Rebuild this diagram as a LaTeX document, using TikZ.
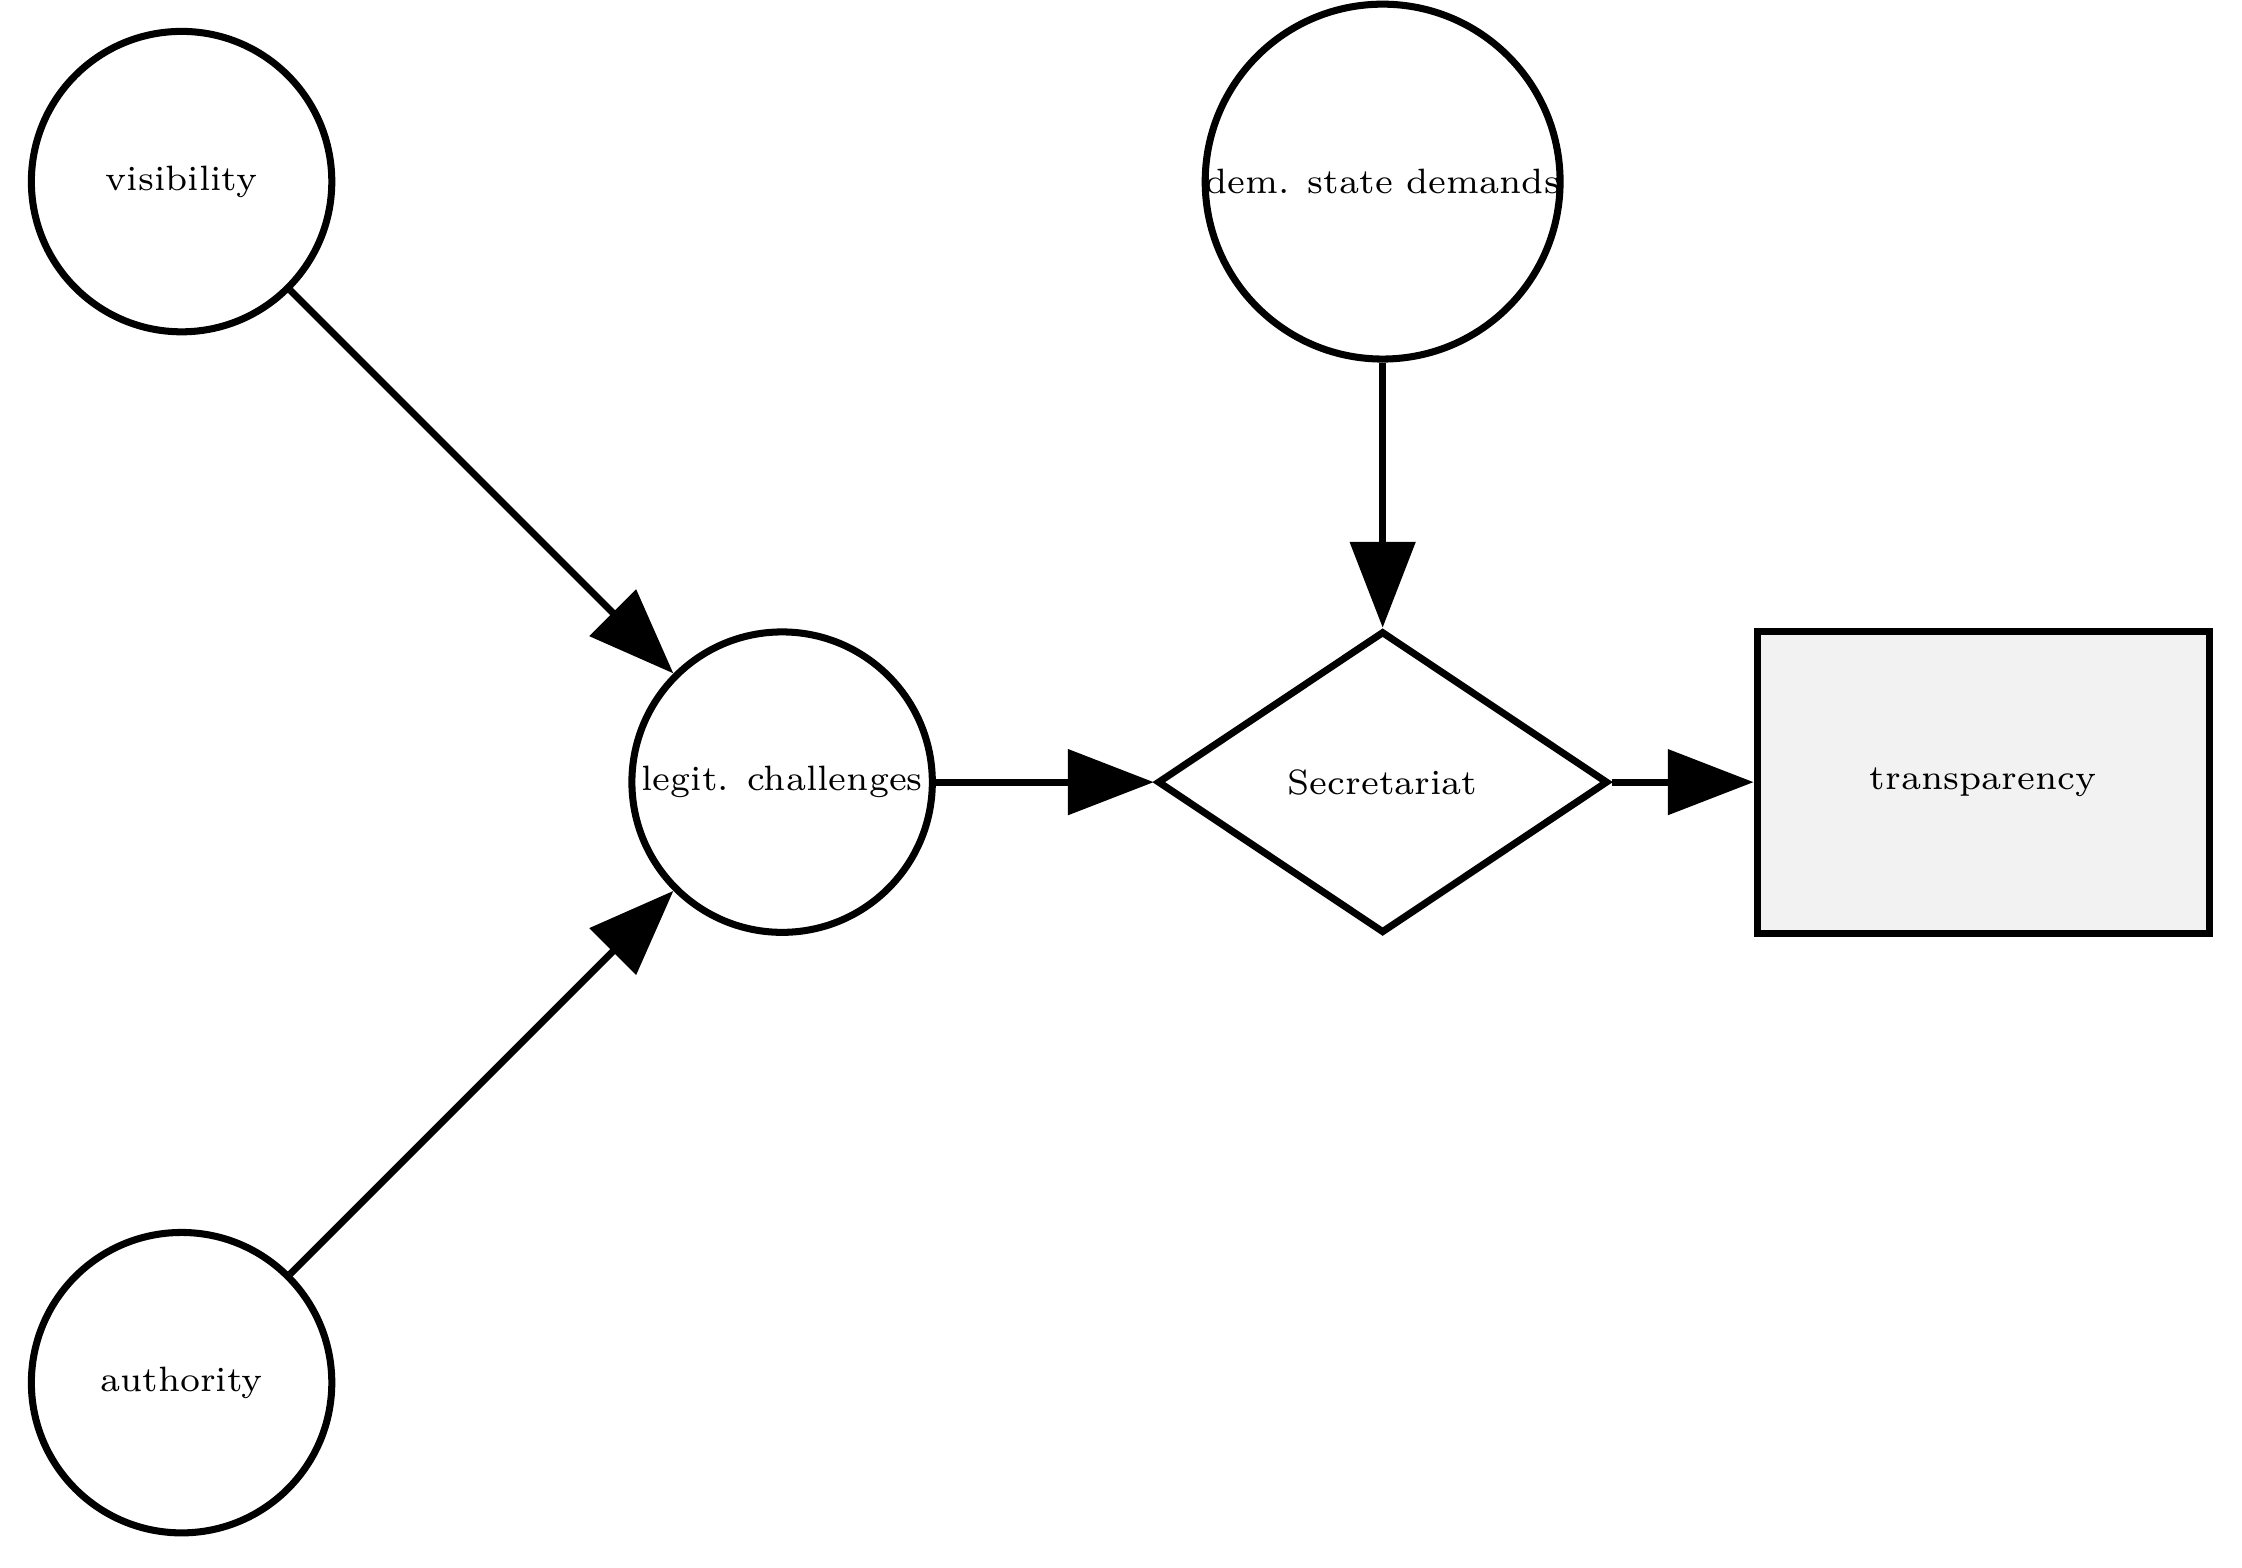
\documentclass[tikz,border=0pt]{standalone}
\usetikzlibrary{arrows.meta, positioning, shapes.geometric}

\begin{document}
\begin{tikzpicture}[
        x=0.01cm, y=-0.01cm,
        factor/.style={circle, draw, line width=1.4pt, minimum size=2.1cm, inner sep=0pt, font=\fontsize{7}{8}\selectfont},
        actor/.style={diamond, draw, line width=1.4pt, minimum width=3.15cm, minimum height=2.11cm, inner sep=0pt, font=\fontsize{7}{8}\selectfont},
        outcome/.style={rectangle, draw, line width=1.4pt, fill=black!5, minimum width=3.16cm, minimum height=2.11cm, font=\fontsize{7}{8}\selectfont},
        arrow/.style={-{Triangle[length=0.6cm, width=0.45cm]}, line width=1.4pt}
    ]
    
    % Frame
    \useasboundingbox (0,0) rectangle (1568,1096);
    
    % Nodes
    \node[factor] (vis) at (127,127) {visibility};
    \node[factor] (auth) at (127,967) {authority};
    \node[factor] (legit) at (547,547) {legit. challenges};
    \node[factor] (dem) at (967,127) {dem. state demands};
    \node[actor] (sec) at (967,547) {Secretariat};
    \node[outcome] (trans) at (1387,547) {transparency};
    
    % Edges
    \draw[arrow] (vis) -- (legit);
    \draw[arrow] (auth) -- (legit);
    \draw[arrow] (legit) -- (sec);
    \draw[arrow] (dem) -- (sec);
    \draw[arrow] (sec) -- (trans);
    
\end{tikzpicture}
\end{document}
